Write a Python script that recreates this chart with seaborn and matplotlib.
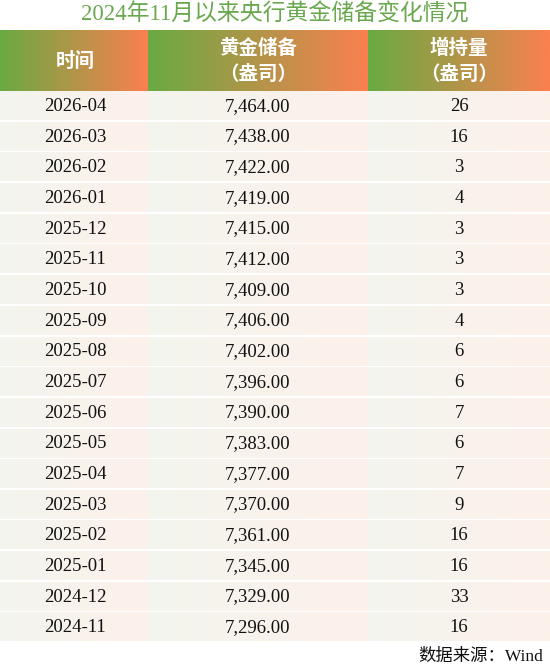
import numpy as np
import matplotlib
matplotlib.use("Agg")
import matplotlib.pyplot as plt
import seaborn as sns

sns.set_theme(style="white")
plt.rcParams['font.family'] = ['Liberation Serif', 'Noto Sans CJK SC', 'DejaVu Sans']

months = ["2026-04","2026-03","2026-02","2026-01","2025-12","2025-11","2025-10","2025-09",
          "2025-08","2025-07","2025-06","2025-05","2025-04","2025-03","2025-02","2025-01",
          "2024-12","2024-11"]
reserves = [7464,7438,7422,7419,7415,7412,7409,7406,7402,7396,7390,7383,7377,7370,7361,7345,7329,7296]
increase = [26,16,3,4,3,3,3,4,6,6,7,6,7,9,16,16,33,16]
headers = ["时间", "黄金储备\n（盎司）", "增持量\n（盎司）"]
title = "2024年11月以来央行黄金储备变化情况"
source = "数据来源：Wind"

W, H = 550, 672
fig = plt.figure(figsize=(5.5, 6.72), dpi=100)
ax = fig.add_axes([0, 0, 1, 1])
ax.set_xlim(0, W); ax.set_ylim(H, 0); ax.axis('off')

cols = [(0, 148), (148, 368), (368, 550)]
centers = [75, 258, 459]
hy0, hy1 = 30, 91
rh = (643 - hy1) / len(months)

def grad(c0, c1, n=64):
    t = np.linspace(0, 1, n)[None, :, None]
    return (np.array(c0)[None, None, :] * (1 - t) + np.array(c1)[None, None, :] * t) / 255

hg = grad((106, 170, 66), (250, 128, 80))
rg = grad((243, 245, 238), (253, 240, 234))
for (x0, x1) in cols:
    ax.imshow(hg, extent=(x0, x1, hy1, hy0), aspect='auto', interpolation='bilinear')
    for i in range(len(months)):
        y0 = hy1 + i * rh
        ax.imshow(rg, extent=(x0, x1, y0 + rh - 1.5, y0 + 1), aspect='auto', interpolation='bilinear')

ax.text(W / 2, 15, title, ha='center', va='center', fontsize=16.5, color='#6aa84f',
        family=['Liberation Serif', 'Noto Sans CJK SC'])
for c, h in zip(centers, headers):
    ax.text(c, (hy0 + hy1) / 2 + 1, h, ha='center', va='center', fontsize=14, color='white',
            linespacing=1.45, fontweight='bold', family=['Noto Sans CJK SC', 'DejaVu Sans'])
for i in range(len(months)):
    yc = hy1 + (i + 0.5) * rh
    ax.text(centers[0], yc, months[i], ha='center', va='center', fontsize=13.5, color='#111111')
    ax.text(centers[1], yc, f"{reserves[i]:,.2f}", ha='center', va='center', fontsize=13.5, color='#111111')
    ax.text(centers[2], yc, str(increase[i]), ha='center', va='center', fontsize=13.5, color='#111111')
ax.text(543, 657, source, ha='right', va='center', fontsize=12.5, color='#111111',
        family=['Liberation Serif', 'Noto Sans CJK SC'])
ax.set_xlim(0, W); ax.set_ylim(H, 0)
fig.savefig("out.png", dpi=100)
